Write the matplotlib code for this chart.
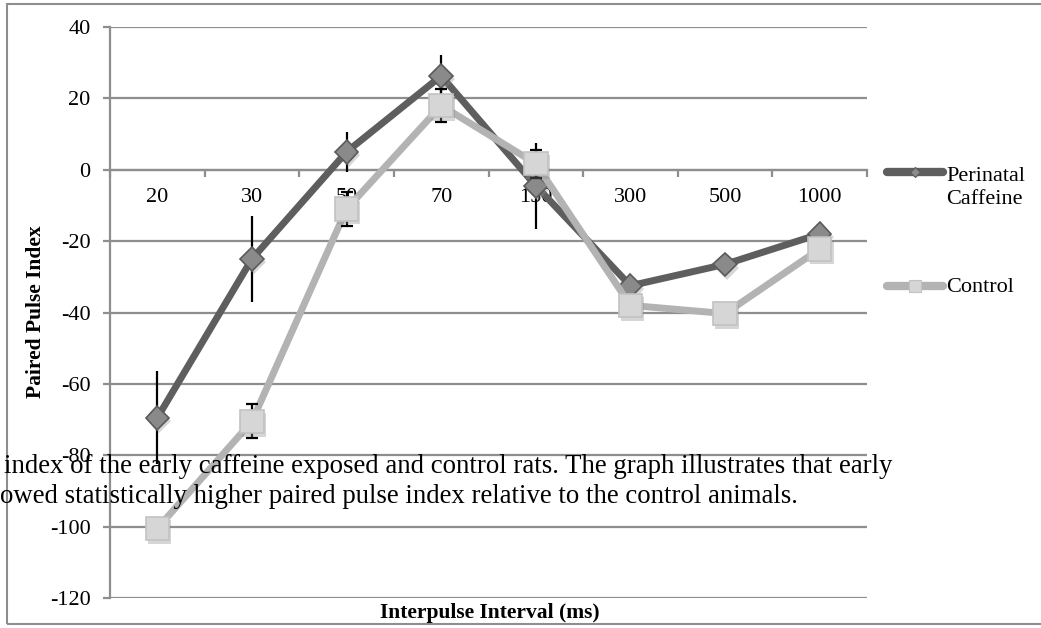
import numpy as np
import matplotlib

matplotlib.use("Agg")
import matplotlib.pyplot as plt
import matplotlib.patheffects as pe
from matplotlib.lines import Line2D
from matplotlib.patches import Rectangle

plt.rcParams["font.family"] = ["Liberation Serif", "DejaVu Serif"]

intervals = ["20", "30", "50", "70", "150", "300", "500", "1000"]
caffeine = [-69.5, -25, 5, 26.3, -4.5, -32.5, -26.5, -18]
caffeine_err = [13, 12, 5.7, 5.8, 12, 0, 0, 0]
control = [-100.5, -70.5, -11, 18, 1.7, -38, -40.3, -22.2]
control_err = [0, 4.8, 4.9, 4.6, 3.9, 0, 0, 0]

y_ticks = [-120, -100, -80, -60, -40, -20, 0, 20, 40]
caption_1 = "index of the early caffeine exposed and control rats. The graph illustrates that early"
caption_2 = "owed statistically higher paired pulse index relative to the control animals."

W, H = 1041, 628
GRID = "#8e8e8e"
FS = 16

fig = plt.figure(figsize=(W / 100, H / 100), dpi=100)
ax = fig.add_axes([110 / W, 1 - 598 / H, (867 - 110) / W, (598 - 27) / H])

x = np.arange(len(intervals))
shadow = [pe.SimplePatchShadow(offset=(1.5, -2.5), shadow_rgbFace="0.55", alpha=0.35), pe.Normal()]

ax.plot(x, caffeine, color="#5e5e5e", lw=5, solid_joinstyle="miter", zorder=3)
ax.errorbar(x, caffeine, yerr=caffeine_err, fmt="none", ecolor="black", elinewidth=1.6,
            capsize=0, zorder=4)
ax.plot(x, caffeine, ls="none", marker="D", ms=12, mfc="#8a8a8a", mec="#5a5a5a", mew=1.2,
        zorder=5, path_effects=shadow)

ax.plot(x, control, color="#b3b3b3", lw=5, solid_joinstyle="miter", zorder=6)
ax.errorbar(x, control, yerr=control_err, fmt="none", ecolor="black", elinewidth=1.6,
            capsize=4, capthick=1.6, zorder=7)
ax.plot(x, control, ls="none", marker="s", ms=17, mfc="#d6d6d6", mec="#c2c2c2", mew=1.2,
        zorder=8, path_effects=shadow)

ax.set_xlim(-0.5, len(intervals) - 0.5)
ax.set_ylim(-120, 40)
ax.set_yticks(y_ticks)
ax.set_yticklabels([str(v) for v in y_ticks])
ax.yaxis.grid(True, color=GRID, lw=1.6)
ax.set_axisbelow(True)

for side in ["top", "right"]:
    ax.spines[side].set_visible(False)
ax.spines["left"].set_color(GRID)
ax.spines["left"].set_linewidth(1.6)
ax.spines["bottom"].set_position(("data", 0))
ax.spines["bottom"].set_color(GRID)
ax.spines["bottom"].set_linewidth(1.6)

ax.set_xticks(x)
ax.set_xticklabels(intervals)
ax.set_xticks(np.arange(-0.5, len(intervals), 1), minor=True)
ax.tick_params(axis="x", which="major", length=0, pad=13, labelsize=FS)
ax.tick_params(axis="x", which="minor", length=5, width=1.6, color=GRID, direction="out")
ax.tick_params(axis="y", length=5, width=1.6, color=GRID, direction="out", pad=9,
               labelsize=FS)

fig.text(36 / W, 1 - 312 / H, "Paired Pulse Index", rotation=90, ha="center", va="center",
         fontsize=15.5, fontweight="bold")
fig.text(490 / W, 1 - 613 / H, "Interpulse Interval (ms)", ha="center", va="center",
         fontsize=15.5, fontweight="bold")

# legend keys
lx = [887 / W, 915 / W, 943 / W]
fig.add_artist(Line2D(lx, [1 - 172 / H] * 3, color="#5e5e5e", lw=6,
                      solid_capstyle="round", marker="D", markevery=[1], ms=5,
                      mfc="#8a8a8a", mec="#5a5a5a", mew=0.8,
                      transform=fig.transFigure))
fig.add_artist(Line2D(lx, [1 - 286 / H] * 3, color="#b3b3b3", lw=6,
                      solid_capstyle="round", marker="s", markevery=[1], ms=8,
                      mfc="#d6d6d6", mec="#c2c2c2", mew=0.8,
                      transform=fig.transFigure))
fig.text(946 / W, 1 - 188 / H, "Perinatal\nCaffeine", ha="left", va="center", fontsize=FS,
         linespacing=1.3)
fig.text(946 / W, 1 - 287 / H, "Control", ha="left", va="center", fontsize=FS)

# caption overlapping the chart
fig.text(4 / W, 1 - 473 / H, caption_1, ha="left", va="baseline", fontsize=19.3, zorder=20)
fig.text(0 / W, 1 - 503 / H, caption_2, ha="left", va="baseline", fontsize=19.3, zorder=20)

fig.add_artist(Rectangle((7 / W, 4 / H), 1.2, 1 - 8 / H, transform=fig.transFigure,
                         fill=False, edgecolor=GRID, lw=1.5))

fig.savefig("out.png", dpi=100)
